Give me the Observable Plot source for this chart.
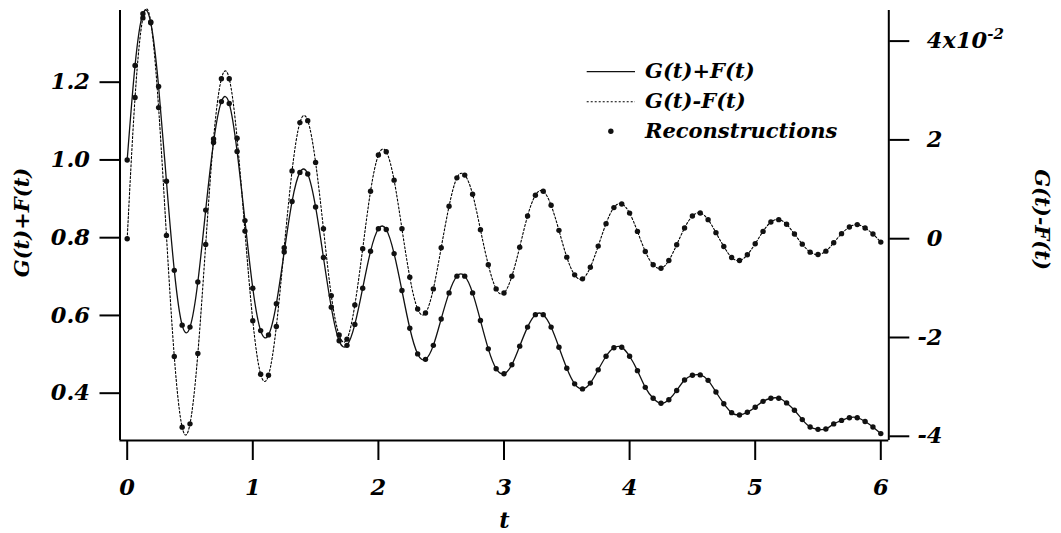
<!DOCTYPE html>
<html><head><meta charset="utf-8">
<script src="https://cdn.jsdelivr.net/npm/d3@7"></script>
<script src="https://cdn.jsdelivr.net/npm/@observablehq/plot@0.6"></script>
<style>
html,body{margin:0;padding:0;background:#fff;}
#chart svg{display:block;}
</style></head><body><div id="chart"></div>
<script>
const tValues = [
 0, 0.0625, 0.125, 0.1875, 0.25, 0.3125, 0.375, 0.4375, 0.5, 0.5625, 0.625, 0.6875, 0.75, 0.8125, 0.875, 0.9375,
 1, 1.0625, 1.125, 1.1875, 1.25, 1.3125, 1.375, 1.4375, 1.5, 1.5625, 1.625, 1.6875, 1.75, 1.8125, 1.875, 1.9375,
 2, 2.0625, 2.125, 2.1875, 2.25, 2.3125, 2.375, 2.4375, 2.5, 2.5625, 2.625, 2.6875, 2.75, 2.8125, 2.875, 2.9375,
 3, 3.0625, 3.125, 3.1875, 3.25, 3.3125, 3.375, 3.4375, 3.5, 3.5625, 3.625, 3.6875, 3.75, 3.8125, 3.875, 3.9375,
 4, 4.0625, 4.125, 4.1875, 4.25, 4.3125, 4.375, 4.4375, 4.5, 4.5625, 4.625, 4.6875, 4.75, 4.8125, 4.875, 4.9375,
 5, 5.0625, 5.125, 5.1875, 5.25, 5.3125, 5.375, 5.4375, 5.5, 5.5625, 5.625, 5.6875, 5.75, 5.8125, 5.875, 5.9375,
 6
];
// G(t)+F(t)  (left axis)
const sumValues = [
 1.000, 1.243, 1.376, 1.353, 1.189, 0.945, 0.716, 0.575, 0.570, 0.686, 0.871, 1.045, 1.150, 1.145, 1.022, 0.844,
 0.670, 0.561, 0.550, 0.630, 0.763, 0.893, 0.968, 0.964, 0.879, 0.749, 0.621, 0.535, 0.523, 0.577, 0.670, 0.765,
 0.823, 0.821, 0.759, 0.664, 0.567, 0.501, 0.487, 0.523, 0.591, 0.658, 0.701, 0.701, 0.658, 0.587, 0.514, 0.463,
 0.450, 0.473, 0.521, 0.570, 0.602, 0.602, 0.570, 0.518, 0.464, 0.424, 0.411, 0.426, 0.460, 0.495, 0.517, 0.518,
 0.495, 0.458, 0.415, 0.387, 0.374, 0.383, 0.407, 0.434, 0.446, 0.447, 0.433, 0.403, 0.373, 0.350, 0.344, 0.351,
 0.364, 0.379, 0.387, 0.387, 0.375, 0.356, 0.332, 0.313, 0.307, 0.308, 0.321, 0.330, 0.337, 0.337, 0.327, 0.313,
 0.296
];
// G(t)-F(t)  (right axis, units of 10^-2)
const diffValues = [
 0.000, 2.858, 4.470, 4.390, 2.654, 0.067, -2.386, -3.815, -3.748, -2.325, -0.116, 2.020, 3.238, 3.238, 2.033, 0.154,
 -1.660, -2.744, -2.764, -1.776, -0.183, 1.370, 2.350, 2.390, 1.545, 0.203, -1.152, -1.950, -2.033, -1.341, -0.203, 0.961,
 1.693, 1.760, 1.185, 0.203, -0.780, -1.423, -1.504, -1.016, -0.183, 0.657, 1.232, 1.287, 0.900, 0.183, -0.528, -1.016,
 -1.098, -0.760, -0.171, 0.459, 0.880, 0.961, 0.677, 0.169, -0.374, -0.732, -0.813, -0.577, -0.150, 0.305, 0.630, 0.703,
 0.518, 0.148, -0.258, -0.528, -0.597, -0.441, -0.122, 0.216, 0.459, 0.520, 0.386, 0.122, -0.157, -0.380, -0.441, -0.325,
 -0.102, 0.148, 0.337, 0.386, 0.291, 0.094, -0.110, -0.272, -0.319, -0.252, -0.081, 0.102, 0.236, 0.285, 0.216, 0.094,
 -0.069
];
const xTicks = [0, 1, 2, 3, 4, 5, 6];
const leftTicks = [0.4, 0.6, 0.8, 1.0, 1.2];
const rightTicks = [-4, -2, 0, 2, 4];
const rightTickLabels = ["-4", "-2", "0", "2", "4"];
const rightExponent = "-2";
const legendLabels = ["G(t)+F(t)", "G(t)-F(t)", "Reconstructions"];
const xTitle = "t";
const leftTitle = "G(t)+F(t)";
const rightTitle = "G(t)-F(t)";

const xDomain = [-0.0573, 6.0637];
const yDomain = [0.2783, 1.3844];
// secondary (right) axis mapped onto the left scale
const rightOffset = 0.7974, rightSlope = 0.12707;
const toLeft = v => rightOffset + rightSlope * v;

const data = tValues.map((t, i) => ({t, s: sumValues[i], d: diffValues[i]}));
const rightLabelMap = new Map(rightTicks.map((v, i) => [toLeft(v), rightTickLabels[i]]));
const font = "'DejaVu Serif', serif";

const plot = Plot.plot({
  width: 1061, height: 533,
  marginLeft: 119.5, marginRight: 172.7, marginTop: 10, marginBottom: 93,
  x: {domain: xDomain, axis: null},
  y: {domain: yDomain, axis: null},
  style: {fontFamily: font, fontSize: "22.5px", fontStyle: "italic", fontWeight: "bold", background: "white", color: "black"},
  marks: [
    Plot.ruleX([xDomain[0], xDomain[1]], {stroke: "black", strokeWidth: 2}),
    Plot.ruleY([yDomain[0]], {stroke: "black", strokeWidth: 2}),
    Plot.axisX(xTicks, {anchor: "bottom", tickSize: 20, tickPadding: 18.5, strokeWidth: 2, label: null, tickFormat: d => String(d)}),
    Plot.axisY(leftTicks, {anchor: "left", tickSize: 20, tickPadding: 10, strokeWidth: 2, label: null, tickFormat: d3.format(".1f")}),
    Plot.axisY(rightTicks.map(toLeft), {anchor: "right", tickSize: 20, tickPadding: 33.7, textAnchor: "end", strokeWidth: 2, label: null, tickFormat: d => rightLabelMap.get(d)}),
    Plot.line(data, {x: "t", y: d => toLeft(d.d), curve: "natural", stroke: "#000", strokeWidth: 1.1, strokeDasharray: "2,2"}),
    Plot.line(data, {x: "t", y: "s", curve: "natural", stroke: "#111", strokeWidth: 1.3}),
    Plot.dot(data, {x: "t", y: "s", r: 2.7, fill: "#111"}),
    Plot.dot(data, {x: "t", y: d => toLeft(d.d), r: 2.7, fill: "#111"}),
    Plot.text([xTitle], {frameAnchor: "bottom", textAnchor: "middle", lineAnchor: "middle", dy: 80, fontSize: 22.5}),
    Plot.text([leftTitle], {frameAnchor: "left", textAnchor: "middle", lineAnchor: "middle", dx: -97.5, dy: -3, rotate: -90, fontSize: 21}),
    Plot.text([rightTitle], {frameAnchor: "right", textAnchor: "middle", lineAnchor: "middle", dx: 152.7, dy: -6, rotate: 90, fontSize: 21})
  ]
});
document.getElementById("chart").appendChild(plot);

// exponent suffix on the top right tick label ("4x10^-2")
const svg = d3.select(plot);
svg.selectAll("text").each(function () {
  if (this.textContent === "4" && this.getBoundingClientRect().left > 900) {
    const clone = this.cloneNode(false);
    clone.setAttribute("text-anchor", "start");
    clone.textContent = "x10";
    const sup = document.createElementNS("http://www.w3.org/2000/svg", "tspan");
    sup.setAttribute("dy", "-0.62em");
    sup.setAttribute("font-size", "15");
    sup.textContent = rightExponent;
    clone.appendChild(sup);
    this.parentNode.appendChild(clone);
  }
});

// legend
const lg = svg.append("g").attr("font-size", 21).attr("font-family", font).attr("font-style", "italic").attr("font-weight", "bold").attr("text-anchor", "start");
const rowY = [71.7, 101.7, 131.2];
const x0 = 586.7, x1 = 635, tx = 645;
lg.append("line").attr("x1", x0).attr("x2", x1).attr("y1", rowY[0]).attr("y2", rowY[0]).attr("stroke", "#111").attr("stroke-width", 1.3);
lg.append("line").attr("x1", x0).attr("x2", x1).attr("y1", rowY[1]).attr("y2", rowY[1]).attr("stroke", "#000").attr("stroke-width", 1.1).attr("stroke-dasharray", "2,2");
lg.append("circle").attr("cx", (x0 + x1) / 2).attr("cy", rowY[2]).attr("r", 2.7).attr("fill", "#111");
legendLabels.forEach((s, i) => {
  lg.append("text").attr("x", tx).attr("y", rowY[i]).attr("dy", "0.3em").attr("text-anchor", "start").text(s);
});
</script></body></html>
